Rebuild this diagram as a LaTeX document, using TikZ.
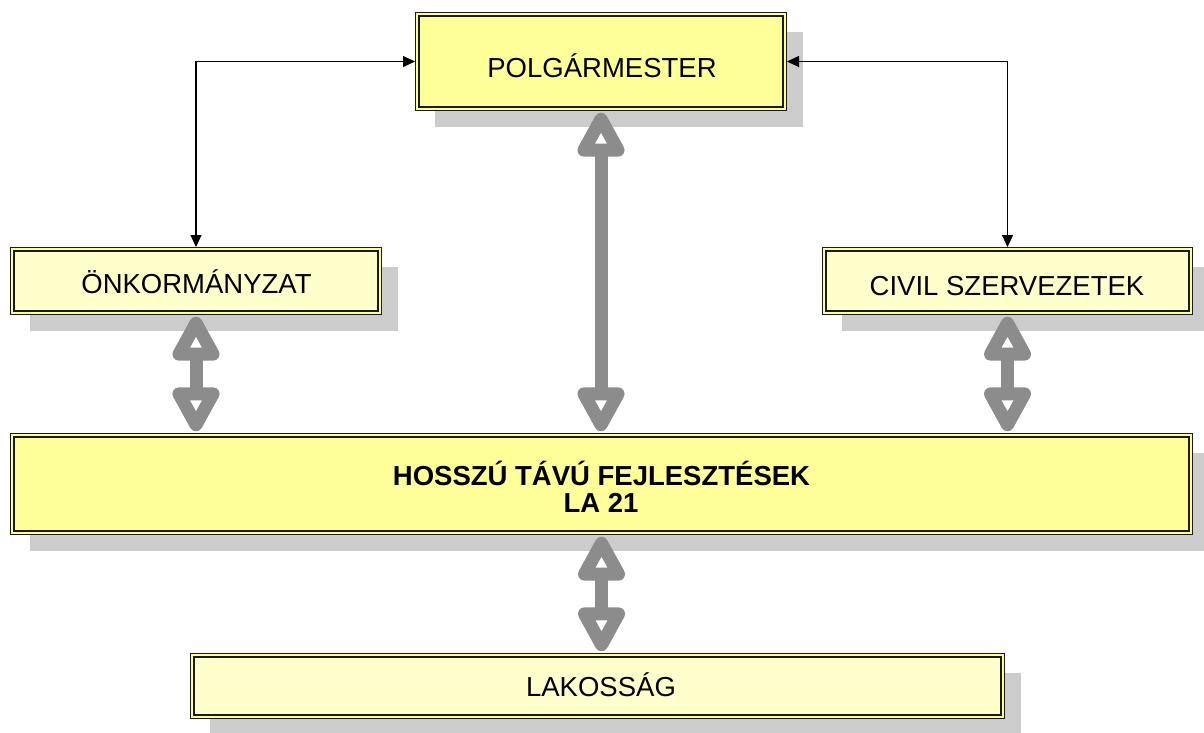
\documentclass[tikz,border=0pt]{standalone}
\usepackage{fontspec}
\setmainfont{Liberation Sans}
\usetikzlibrary{arrows.meta,shadows}
\definecolor{boxyellow}{HTML}{FFFF99}
\definecolor{paleyellow}{HTML}{FFFFCC}
\definecolor{shadowgray}{HTML}{CCCCCC}
\definecolor{arrowgray}{HTML}{8C8C8C}
\definecolor{framedark}{HTML}{1A1A1A}
\begin{document}
\begin{tikzpicture}[x=1pt,y=1pt,
  box/.style={draw=framedark, line width=1.3pt, double=boxyellow, double distance=2.2pt,
    inner sep=0pt, outer sep=0pt,
    drop shadow={shadow xshift=18pt, shadow yshift=-18pt, fill=shadowgray, opacity=1}},
  label/.style={font=\fontsize{27.5}{27}\selectfont, anchor=base, inner sep=0pt, text=black},
  bigarrow/.style={draw=arrowgray, line width=13pt,
    {Triangle[open, round, length=52pt, width=52pt]}-{Triangle[open, round, length=52pt, width=52pt]},
    shorten <=4pt, shorten >=4pt},
  thinarrow/.style={draw=black, line width=1.2pt,
    {Triangle[length=12pt, width=11pt]}-{Triangle[length=12pt, width=11pt]},
    shorten <=2.3pt, shorten >=2.3pt}]
\useasboundingbox (0,0) rectangle (1204,-733);

% boxes
\node[box, fill=boxyellow, minimum width=367.4pt, minimum height=94.4pt] (pol) at (601,-61.5) {};
\node[box, fill=paleyellow, minimum width=367.4pt, minimum height=63.4pt] (onk) at (196,-281) {};
\node[box, fill=paleyellow, minimum width=366.4pt, minimum height=63.4pt] (civ) at (1007.5,-281) {};
\node[box, fill=boxyellow, minimum width=1178.4pt, minimum height=97.4pt] (hos) at (601.5,-484) {};
\node[box, fill=paleyellow, minimum width=810.4pt, minimum height=61.4pt] (lak) at (597.5,-686) {};

% texts
\node[label] (tpol) at (602,-78) {POLGÁRMESTER};
\node[label] (tonk) at (196.5,-293) {ÖNKORMÁNYZAT};
\node[label] (tciv) at (1007,-295) {CIVIL SZERVEZETEK};
\node[label, font=\fontsize{27.5}{27}\selectfont\bfseries] (thos1) at (601.5,-485) {HOSSZÚ TÁVÚ FEJLESZTÉSEK};
\node[label, font=\fontsize{27.5}{27}\selectfont\bfseries] (thos2) at (601,-512) {LA 21};
\node[label] (tlak) at (601,-696) {LAKOSSÁG};

% thin connectors
\draw[thinarrow] (pol.west) -| (onk.north);
\draw[thinarrow] (pol.east) -| (civ.north);

% thick grey connectors
\draw[bigarrow] (pol.south) -- (pol.south |- hos.north);
\draw[bigarrow] (onk.south) -- (onk.south |- hos.north);
\draw[bigarrow] (civ.south) -- (civ.south |- hos.north);
\draw[bigarrow] (hos.south) -- (hos.south |- lak.north);
\end{tikzpicture}
\end{document}
